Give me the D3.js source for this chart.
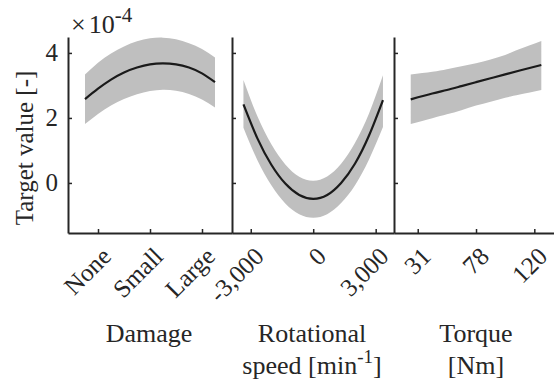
<!DOCTYPE html>
<html>
<head>
<meta charset="utf-8">
<script src="https://cdn.jsdelivr.net/npm/d3@7"></script>
<style>
  body { margin: 0; background: #fff; }
  text { font-family: "Liberation Serif", "Times New Roman", serif; fill: #262626; }
</style>
</head>
<body>
<script>
// values are in units of 1e-4
var damageX = [-0.25, 0, 0.25, 0.5, 0.75, 1, 1.25, 1.5, 1.75, 2, 2.25];
var damageMean = [2.58, 2.90, 3.18, 3.40, 3.55, 3.65, 3.68, 3.65, 3.55, 3.37, 3.10];
var damageUpper = [3.34, 3.70, 3.98, 4.20, 4.36, 4.45, 4.47, 4.42, 4.30, 4.12, 3.86];
var damageLower = [1.81, 2.12, 2.38, 2.58, 2.73, 2.83, 2.87, 2.84, 2.74, 2.57, 2.32];
var damageTicks = [0, 1, 2];
var damageLabels = ["None", "Small", "Large"];

var speedX = [-3350, -2680, -2010, -1340, -670, 0, 670, 1340, 2010, 2680, 3350];
var speedMean = [2.42, 1.37, 0.56, -0.02, -0.37, -0.49, -0.37, 0.00, 0.60, 1.46, 2.55];
var speedUpper = [3.17, 2.05, 1.19, 0.57, 0.19, 0.07, 0.20, 0.59, 1.24, 2.14, 3.31];
var speedLower = [1.70, 0.70, -0.07, -0.63, -0.96, -1.07, -0.96, -0.62, -0.07, 0.72, 1.72];
var speedTicks = [-3000, 0, 3000];
var speedLabels = ["-3,000", "0", "3,000"];

var torqueX = [-0.12, 0.25, 0.5, 0.75, 1, 1.25, 1.5, 1.75, 2.12];
var torqueMean = [2.57, 2.75, 2.86, 2.98, 3.10, 3.22, 3.34, 3.46, 3.63];
var torqueUpper = [3.34, 3.42, 3.50, 3.59, 3.68, 3.80, 3.94, 4.12, 4.37];
var torqueLower = [1.81, 1.99, 2.11, 2.24, 2.38, 2.50, 2.62, 2.72, 2.86];
var torqueTicks = [0, 1, 2];
var torqueLabels = ["31", "78", "120"];

var yTicks = [0, 2, 4];

var width = 554,
    height = 389,
    plotTop = 37,
    plotBottom = 233;

var svg = d3.select("body").append("svg")
    .attr("width", width)
    .attr("height", height);

var y = d3.scaleLinear().domain([-1.54, 4.49]).range([plotBottom, plotTop]);

var panels = [
  {x: damageX, mean: damageMean, upper: damageUpper, lower: damageLower,
   ticks: damageTicks, labels: damageLabels, domain: [-0.577, 2.577], range: [68, 232],
   title: ["Damage"]},
  {x: speedX, mean: speedMean, upper: speedUpper, lower: speedLower,
   ticks: speedTicks, labels: speedLabels, domain: [-3900, 3880], range: [232, 394],
   title: ["Rotational", "speed [min", "-1", "]"]},
  {x: torqueX, mean: torqueMean, upper: torqueUpper, lower: torqueLower,
   ticks: torqueTicks, labels: torqueLabels, domain: [-0.407, 2.372], range: [394, 556],
   title: ["Torque", "[Nm]"]}
];

panels.forEach(function(p, i) {
  var x = d3.scaleLinear().domain(p.domain).range(p.range);
  var rows = p.x.map(function(d, j) {
    return {x: d, m: p.mean[j], hi: p.upper[j], lo: p.lower[j]};
  });

  var area = d3.area()
      .x(function(d) { return x(d.x); })
      .y0(function(d) { return y(d.lo); })
      .y1(function(d) { return y(d.hi); })
      .curve(d3.curveNatural);

  var line = d3.line()
      .x(function(d) { return x(d.x); })
      .y(function(d) { return y(d.m); })
      .curve(d3.curveNatural);

  svg.append("path")
      .datum(rows)
      .attr("fill", "#bfbfbf")
      .attr("d", area);

  svg.append("path")
      .datum(rows)
      .attr("fill", "none")
      .attr("stroke", "#1a1a1a")
      .attr("stroke-width", 2.2)
      .attr("d", line);

  // y axis, ticks pointing inward
  var yAxis = svg.append("g")
      .attr("transform", "translate(" + p.range[0] + ",0)")
      .call(d3.axisLeft(y).tickValues(yTicks).tickSize(-4).tickSizeOuter(0)
        .tickFormat(i === 0 ? d3.format("d") : ""));
  yAxis.select(".domain").attr("stroke", "#262626").attr("stroke-width", 2);
  yAxis.selectAll(".tick line").attr("stroke", "#262626").attr("stroke-width", 1.5);
  yAxis.selectAll("text")
      .attr("x", -10)
      .attr("font-size", 25)
      .attr("font-family", "Liberation Serif, serif")
      .attr("fill", "#262626");

  var xAxis = svg.append("g")
      .attr("transform", "translate(0," + plotBottom + ")")
      .call(d3.axisBottom(x).tickValues(p.ticks).tickSize(-4).tickSizeOuter(0)
        .tickFormat(function(d, j) { return p.labels[j]; }));
  xAxis.select(".domain").attr("stroke", "#262626").attr("stroke-width", 2);
  xAxis.selectAll(".tick line").attr("stroke", "#262626").attr("stroke-width", 1.5);
  xAxis.selectAll("text")
      .attr("x", 0).attr("y", 0).attr("dy", 0)
      .attr("text-anchor", "end")
      .attr("transform", "translate(14,25) rotate(-45)")
      .attr("font-size", 25)
      .attr("font-family", "Liberation Serif, serif")
      .attr("fill", "#262626");

  var cx = (p.range[0] + p.range[1]) / 2 - 1;
  if (i === 1) cx = 312;
  if (i === 2) cx = 476;
  svg.append("text")
      .attr("x", cx).attr("y", 342)
      .attr("text-anchor", "middle")
      .attr("font-size", 26)
      .text(p.title[0]);
  if (p.title.length > 1) {
    var t2 = svg.append("text")
        .attr("x", cx).attr("y", 374)
        .attr("text-anchor", "middle")
        .attr("font-size", 26);
    t2.append("tspan").text(p.title[1]);
    if (p.title.length > 2) {
      t2.append("tspan").attr("dy", -11).attr("font-size", 19).text(p.title[2]);
      t2.append("tspan").attr("dy", 11).text(p.title[3]);
    }
  }
});

// y axis label
svg.append("text")
    .attr("transform", "translate(33,148) rotate(-90)")
    .attr("text-anchor", "middle")
    .attr("font-size", 25)
    .text("Target value [-]");

// exponent label
var ex = svg.append("text")
    .attr("x", 71).attr("y", 33)
    .attr("font-size", 26);
ex.append("tspan").text("\u00d7");
ex.append("tspan").attr("dx", 3).text("10");
ex.append("tspan").attr("dy", -11).attr("font-size", 21).text("-4");
</script>
</body>
</html>
